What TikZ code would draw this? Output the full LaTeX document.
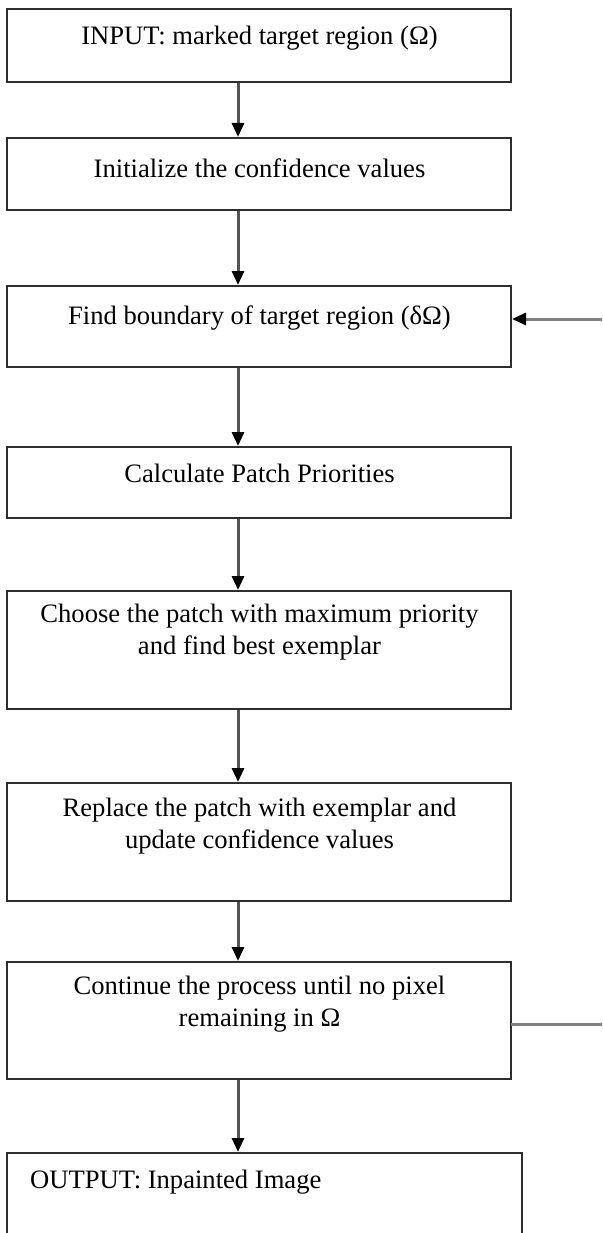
\documentclass[tikz,border=0pt]{standalone}
\usepackage{fontspec}
\setmainfont{Liberation Serif}
\usetikzlibrary{arrows.meta}
\definecolor{boxline}{HTML}{2E2E2E}
\definecolor{arrline}{HTML}{555555}
\definecolor{fbline}{HTML}{808080}
\tikzset{
  box/.style={draw=boxline, line width=2pt, minimum width=504pt, inner sep=0pt, fill=none},
  txt/.style={font=\fontsize{26.6}{32.5}\selectfont, align=center, inner sep=0pt, text=black},
  flow/.style={draw=arrline, line width=3pt, -{Triangle[length=14pt,width=12pt,color=black]}},
  feedback/.style={draw=fbline, line width=3pt},
}
\begin{document}
\begin{tikzpicture}[x=1pt,y=-1pt]
\useasboundingbox (0,0) rectangle (602,1233);
\clip (0,0) rectangle (602,1233);
% boxes
\node[box, minimum height=73pt] (b1) at (259,45.5) {};
\node[box, minimum height=72pt] (b2) at (259,174) {};
\node[box, minimum height=81pt] (b3) at (259,326.5) {};
\node[box, minimum height=71pt] (b4) at (259,482.5) {};
\node[box, minimum height=118pt] (b5) at (259,650) {};
\node[box, minimum height=118pt] (b6) at (259,842) {};
\node[box, minimum height=117pt] (b7) at (259,1020.5) {};
\node[box, minimum width=515pt, minimum height=100pt] (b8) at (264.5,1203) {};
% texts
\node[txt] (t1) at (259.5,38) {INPUT: marked target region (Ω)};
\node[txt] (t2) at (259.5,168) {Initialize the confidence values};
\node[txt] (t3) at (259.5,318) {Find boundary of target region (δΩ)};
\node[txt] (t4) at (259.5,473) {Calculate Patch Priorities};
\node[txt] (t5) at (259.5,632) {Choose the patch with maximum priority\\and find best exemplar};
\node[txt] (t6) at (259.5,826) {Replace the patch with exemplar and\\update confidence values};
\node[txt] (t7) at (259.5,1004) {Continue the process until no pixel\\remaining in Ω};
\node[txt, anchor=west] (t8) at (30,1182) {OUTPUT: Inpainted Image};
% flow arrows
\coordinate (x) at (238,0);
\draw[flow] (b1.south -| x) -- (b2.north -| x);
\draw[flow] (b2.south -| x) -- (b3.north -| x);
\draw[flow] (b3.south -| x) -- (b4.north -| x);
\draw[flow] (b4.south -| x) -- (b5.north -| x);
\draw[flow] (b5.south -| x) -- (b6.north -| x);
\draw[flow] (b6.south -| x) -- (b7.north -| x);
\draw[flow] (b7.south -| x) -- (b8.north -| x);
% feedback loop (vertical part lies outside the frame)
\coordinate (fbout) at (511,1024);
\coordinate (fbin) at (512,319);
\coordinate (fbr1) at (640,1024);
\coordinate (fbr2) at (640,319);
\draw[feedback, -{Triangle[length=14pt,width=12pt,color=black]}] (fbout) -- (fbr1) -- (fbr2) -- (fbin);
\end{tikzpicture}
\end{document}
